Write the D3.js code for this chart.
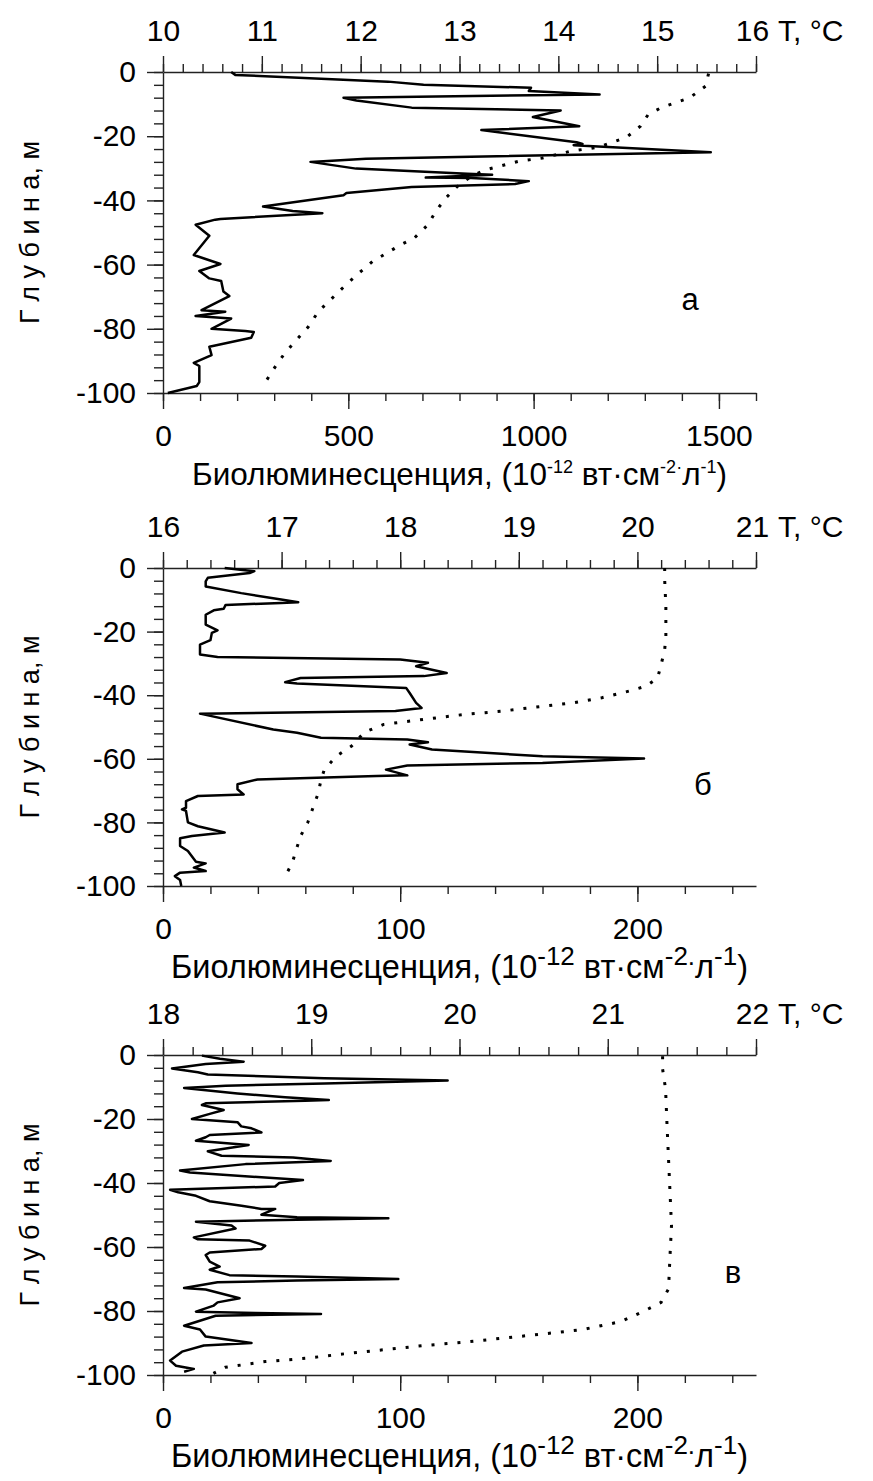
<!DOCTYPE html>
<meta charset='utf-8'>
<style>
	body { margin: 0; background: #fff; }
	svg text { font-family: 'Liberation Sans', Arial, sans-serif; fill: #000; }
	.axis path, .axis line { stroke: #222; stroke-width: 1.4; }
	.axis text { font-size: 30px; }
</style>
<body>
<div id='container'></div>
<script src='https://d3js.org/d3.v7.min.js'></script>
<script>
// bioluminescence profiles, [value, depth]
const bioA = [
	[184, 0], [195, -0.9], [607, -3], [703, -4], [993, -4.9], [987, -5.9], [1178, -7],
	[487, -8], [522, -8.9], [671, -11.1], [1073, -12], [998, -14], [1123, -16.9],
	[859, -18.1], [1116, -21.9], [1132, -22.4], [1108, -22.8], [1478, -25], [548, -27],
	[398, -28], [521, -30.1], [821, -31.7], [888, -32], [709, -32.9], [832, -33],
	[987, -34], [950, -34.9], [671, -35.8], [495, -37.7], [487, -38.4], [270, -41.9],
	[350, -43.3], [430, -44], [155, -45.8], [141, -46], [88, -47.6], [125, -51],
	[83, -57], [155, -59.8], [98, -62], [125, -64.3], [157, -65.1], [163, -68.4],
	[179, -69.8], [104, -74.2], [168, -74.7], [88, -76], [184, -76.8], [131, -80],
	[222, -80.7], [245, -81], [238, -82.8], [125, -85.6], [131, -88.2], [83, -90.6],
	[98, -91.6], [98, -96.6], [91, -97.8], [13, -100]
];
const bioB = [
	[26, 0], [38.5, -1], [36.5, -1.6], [18.9, -3.1], [18, -4.2], [18, -5.8], [33, -7.9],
	[49.8, -9.9], [57, -10.8], [49.8, -11], [26.4, -11.6], [25.6, -12.8], [21.4, -13.3],
	[18, -14.7], [18, -17.8], [23, -19.6], [20.6, -20.4], [20, -22.7], [15.6, -24.1],
	[15.6, -27.2], [23, -28], [100, -28.8], [111.7, -29.8], [106.7, -30.9], [119.6, -33],
	[110, -34], [58, -34.6], [51.5, -35.9], [56.5, -36.3], [102.5, -37.7], [104, -39.3],
	[106.7, -42.4], [109, -44], [98, -45], [15.6, -45.8], [46.5, -50.8], [56.5, -51.8],
	[66.6, -53.4], [103, -53.9], [111.7, -54.8], [104, -55.5], [113.4, -57.1],
	[160, -59.2], [202.8, -59.9], [160, -61.3], [103, -62.1], [94, -63.4], [103, -65.2],
	[90, -65.4], [39.8, -66.5], [31.4, -68], [31.4, -69.6], [34, -71.2], [14.7, -71.7],
	[9.7, -73.3], [9.7, -75.4], [8, -75.9], [9.7, -76.4], [10.5, -80], [14.7, -81.2],
	[26, -83.2], [12.2, -84.3], [7.2, -85], [7.2, -87.4], [10.5, -89], [13.9, -92.4],
	[18, -92.9], [13, -94.2], [18, -95.3], [7.2, -95.8], [5, -96.9], [7.2, -98.1], [7.7, -100]
];
const bioC = [
	[16.4, -0.2], [24, -1.2], [34, -2.1], [18, -2.8], [3.8, -4.2], [14.7, -5.4],
	[18.9, -6.1], [68, -7.3], [120, -8], [68, -8.9], [26.4, -9.6], [8.9, -10.3],
	[31.4, -12], [51.5, -13.2], [69.9, -14.1], [59.9, -14.3], [18, -15.1], [16.4, -15.6],
	[25.6, -17.2], [19.7, -18.4], [12.2, -20], [31.4, -21], [33, -22.3], [37.3, -22.9],
	[41.5, -24.2], [19.7, -25], [18, -25.7], [13.9, -26.8], [36.1, -28.1], [18.9, -30.1],
	[24.7, -31.5], [54.8, -32], [70.7, -33.1], [34.8, -34.1], [7.2, -36.1], [11.4, -36.7],
	[59, -39.1], [49, -40], [47.3, -41.1], [3, -42.1], [6.4, -42.9], [13.9, -44],
	[19.7, -45.7], [33.1, -47.1], [41.5, -48.1], [47.3, -48.1], [41.5, -49.9],
	[56.5, -50.7], [95, -51], [56.5, -51.5], [13.9, -52.1], [28.9, -53.3], [30.6, -54.2],
	[13, -57], [14.7, -57.6], [36.5, -58], [43.1, -59.6], [41.5, -60.6], [19.7, -61.7],
	[18, -62.5], [19.7, -64.6], [23.9, -66.1], [19.7, -67.1], [28, -68.8], [56.5, -69.2],
	[99.2, -70], [56.5, -70.5], [23, -71], [8.9, -72.8], [18, -73.3], [32.3, -76],
	[23, -77.3], [21.4, -78.3], [13.9, -80.2], [39, -80.6], [66.6, -80.9], [22.2, -81.5],
	[8.9, -84.6], [15.6, -85.8], [18, -88], [37.3, -90], [17.2, -90.8], [8, -92.7],
	[3, -95.5], [5.5, -97.1], [13, -98.1], [8.9, -99]
];

// temperature profiles, [T, depth]
const tempA = [
	[15.52, -0.5], [15.49, -4.4], [15.33, -8], [15.05, -11], [14.91, -13.2], [14.83, -16.9],
	[14.69, -20.3], [14.41, -23.4], [14.12, -24.7], [13.84, -26.8], [13.6, -27.8],
	[13.26, -30.5], [13.12, -32.5], [12.98, -35.6], [12.86, -39.3], [12.76, -43.4],
	[12.68, -47.6], [12.54, -51.8], [12.4, -53.9], [12.26, -56.5], [12.12, -59],
	[11.98, -62.7], [11.84, -66.6], [11.71, -70.5], [11.57, -74.7], [11.47, -79.4],
	[11.35, -83.5], [11.23, -87.7], [11.14, -91.6], [11.04, -96.4]
];
const tempB = [
	[20.23, 0], [20.23, -3.7], [20.24, -12], [20.24, -21.5], [20.23, -25.7], [20.2, -30.4],
	[20.17, -34.6], [20.07, -37.2], [19.93, -38.7], [19.7, -40.8], [19.46, -42.4],
	[19.2, -43.5], [18.86, -45], [18.53, -46.1], [18.2, -47.6], [17.86, -49.2],
	[17.7, -51.6], [17.59, -56], [17.46, -59.2], [17.36, -63.4], [17.33, -67],
	[17.31, -70.7], [17.26, -75.9], [17.22, -80.1], [17.16, -84.3], [17.12, -89],
	[17.09, -92.7], [17.02, -97.7]
];
const tempC = [
	[21.37, -0.4], [21.37, -4.4], [21.39, -10.6], [21.4, -22.1], [21.42, -42.9],
	[21.43, -53.3], [21.42, -62.7], [21.41, -73.1], [21.36, -77.3], [21.25, -79.9],
	[21.09, -83.3], [20.83, -85.8], [20.56, -87.2], [20.29, -88.5], [20.02, -89.8],
	[19.76, -90.8], [19.49, -92.1], [19.22, -93.4], [18.96, -94.8], [18.69, -95.8],
	[18.42, -97.6], [18.34, -99.5]
];

const depthTicks = [0, -20, -40, -60, -80, -100];
const bioTicksA = [0, 500, 1000, 1500];
const bioTicksBC = [0, 100, 200];

const panels = [
	{ bio: bioA, temp: tempA, bioMax: 1600, bioTicks: bioTicksA, bioMinor: 100, tMin: 10, tMax: 16,
		top: 72, bottom: 393, letter: 'а', lx: 690, ly: 310, small: true },
	{ bio: bioB, temp: tempB, bioMax: 250, bioTicks: bioTicksBC, bioMinor: 20, tMin: 16, tMax: 21,
		top: 568, bottom: 886, letter: 'б', lx: 703, ly: 795, small: false },
	{ bio: bioC, temp: tempC, bioMax: 250, bioTicks: bioTicksBC, bioMinor: 20, tMin: 18, tMax: 22,
		top: 1055, bottom: 1375, letter: 'в', lx: 733, ly: 1283, small: false },
];

const left = 163, right = 756;
const plain = d => String( d );

const svg = d3.select( '#container' )
	.append( 'svg' )
	.attr( 'width', 873 )
	.attr( 'height', 1481 );

panels.forEach( p => {
	const x = d3.scaleLinear().domain( [0, p.bioMax] ).range( [left, right] );
	const t = d3.scaleLinear().domain( [p.tMin, p.tMax] ).range( [left, right] );
	const y = d3.scaleLinear().domain( [0, -100] ).range( [p.top, p.bottom] );

	const g = svg.append( 'g' );

	// depth axis
	g.append( 'g' ).attr( 'class', 'axis' )
		.attr( 'transform', `translate( ${left}, 0 )` )
		.call( d3.axisLeft( y ).tickValues( d3.range( 0, -101, -4 ) ).tickSize( 9 ).tickSizeOuter( 0 ).tickFormat( '' ) );
	g.append( 'g' ).attr( 'class', 'axis' )
		.attr( 'transform', `translate( ${left}, 0 )` )
		.call( d3.axisLeft( y ).tickValues( depthTicks ).tickSize( 16 ).tickSizeOuter( 0 ).tickPadding( 11 ).tickFormat( plain ) )
		.call( a => a.select( '.domain' ).remove() );

	// temperature axis (top)
	g.append( 'g' ).attr( 'class', 'axis' )
		.attr( 'transform', `translate( 0, ${p.top} )` )
		.call( d3.axisTop( t ).tickValues( d3.range( p.tMin, p.tMax + 0.01, 0.2 ) ).tickSize( 8 ).tickSizeOuter( 0 ).tickFormat( '' ) );
	g.append( 'g' ).attr( 'class', 'axis' )
		.attr( 'transform', `translate( 0, ${p.top} )` )
		.call( d3.axisTop( t ).tickValues( d3.range( p.tMin, p.tMax + 1 ) ).tickSize( 16 ).tickSizeOuter( 0 ).tickPadding( 15 ).tickFormat( plain ) )
		.call( a => a.select( '.domain' ).remove() )
		.call( a => a.selectAll( '.tick text' ).attr( 'dx', d => d === p.tMax ? -4 : 0 ) );

	// bioluminescence axis (bottom)
	g.append( 'g' ).attr( 'class', 'axis' )
		.attr( 'transform', `translate( 0, ${p.bottom} )` )
		.call( d3.axisBottom( x ).tickValues( d3.range( 0, p.bioMax + 1, p.bioMinor ) ).tickSize( 8 ).tickSizeOuter( 0 ).tickFormat( '' ) );
	g.append( 'g' ).attr( 'class', 'axis' )
		.attr( 'transform', `translate( 0, ${p.bottom} )` )
		.call( d3.axisBottom( x ).tickValues( p.bioTicks ).tickSize( 16 ).tickSizeOuter( 0 ).tickPadding( 16 ).tickFormat( plain ) )
		.call( a => a.select( '.domain' ).remove() );

	g.selectAll( '.axis .tick text' ).attr( 'fill', '#000' );

	g.append( 'text' )
		.attr( 'x', 778 ).attr( 'y', p.top - 31 )
		.attr( 'font-size', 30 )
		.text( 'T, °C' );

	// depth label
	g.append( 'text' )
		.attr( 'transform', `translate( 39, ${( p.top + p.bottom ) / 2} ) rotate( -90 )` )
		.attr( 'text-anchor', 'middle' )
		.attr( 'font-size', 27 )
		.text( 'Г л у б и н а, м' );

	// bioluminescence label
	const base = p.small ? 31.5 : 32.5;
	const supSize = p.small ? 18 : 26, supDy = p.small ? -12 : -13;
	const lab = g.append( 'text' )
		.attr( 'x', ( left + right ) / 2 ).attr( 'y', p.bottom + 92 )
		.attr( 'text-anchor', 'middle' )
		.attr( 'font-size', base );
	const parts = [
		['Биолюминесценция, (10', false], ['-12', true], [' вт·см', false], ['-2', true],
		[p.small ? '·' : '.', true], ['л', false], ['-1', true], [')', false]
	];
	parts.forEach( ( [s, sup], i ) => {
		const prev = i > 0 && parts[i - 1][1];
		lab.append( 'tspan' )
			.attr( 'font-size', sup ? supSize : base )
			.attr( 'dy', sup ? ( prev ? 0 : supDy ) : ( prev ? -supDy : 0 ) )
			.text( s );
	} );

	// panel letter
	g.append( 'text' )
		.attr( 'x', p.lx ).attr( 'y', p.ly )
		.attr( 'text-anchor', 'middle' )
		.attr( 'font-size', 31 )
		.text( p.letter );

	// curves
	g.append( 'path' )
		.datum( p.temp )
		.attr( 'fill', 'none' )
		.attr( 'stroke', '#000' )
		.attr( 'stroke-width', 3 )
		.attr( 'stroke-dasharray', '3,10' )
		.attr( 'd', d3.line().x( d => t( d[0] ) ).y( d => y( d[1] ) ) );

	g.append( 'path' )
		.datum( p.bio )
		.attr( 'fill', 'none' )
		.attr( 'stroke', '#000' )
		.attr( 'stroke-width', 2.5 )
		.attr( 'stroke-linejoin', 'round' )
		.attr( 'd', d3.line().x( d => x( d[0] ) ).y( d => y( d[1] ) ) );
} );
</script>
</body>
